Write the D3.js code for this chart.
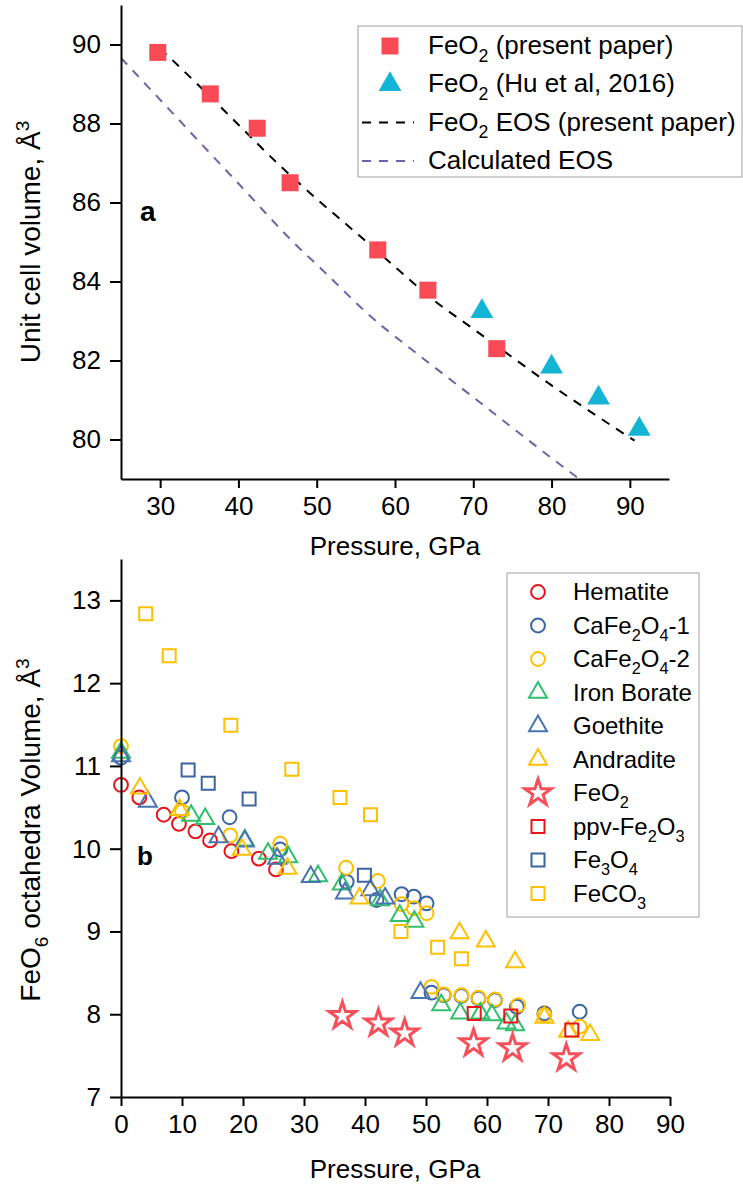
<!DOCTYPE html>
<html>
<head>
<meta charset="utf-8">
<script src="https://cdn.jsdelivr.net/npm/d3@7"></script>
<style>
body { margin: 0; background: #fff; }
svg text { font-family: "Liberation Sans", Arial, sans-serif; fill: #000; }
.axis path, .axis line { stroke: #000; stroke-width: 2; }
</style>
</head>
<body>
<script>
'use strict';

// ---- panel a data ----
var presentP = [29.7, 36.4, 42.4, 46.6, 57.8, 64.2, 73.0];
var presentV = [89.8, 88.75, 87.88, 86.5, 84.8, 83.78, 82.3];
var huP = [71.1, 80.0, 86.0, 91.2];
var huV = [83.24, 81.84, 81.05, 80.26];
var eosP = [30, 35, 40, 45, 50, 55, 60, 65, 70, 75, 80, 85, 90.6];
var eosV = [89.9, 88.95, 87.97, 86.99, 86.09, 85.24, 84.37, 83.52, 82.8, 82.08, 81.37, 80.7, 79.97];
var calcP = [25, 30, 40, 47.9, 50, 58.1, 60, 70, 80, 84];
var calcV = [89.66, 88.6, 86.48, 84.82, 84.43, 82.91, 82.61, 81.07, 79.53, 78.93];

// ---- panel b data ----
var hematiteP = [0, 3.0, 7.0, 9.5, 12.2, 14.6, 18.1, 22.6, 25.4];
var hematiteV = [10.77, 10.62, 10.41, 10.30, 10.21, 10.10, 9.97, 9.88, 9.75];
var cafe1P = [0, 10.0, 17.8, 26.1, 37.0, 41.9, 46.0, 48.0, 50.1, 50.9, 52.9, 55.8, 58.6, 61.3, 64.9, 69.4, 75.2];
var cafe1V = [11.1, 10.62, 10.38, 9.99, 9.60, 9.38, 9.45, 9.42, 9.34, 8.26, 8.23, 8.22, 8.19, 8.17, 8.09, 8.01, 8.03];
var cafe2P = [0, 10.0, 17.9, 26.1, 36.9, 42.1, 46.0, 48.0, 50.1, 50.9, 52.9, 55.8, 58.6, 61.3, 65.1, 69.4, 75.2];
var cafe2V = [11.24, 10.45, 10.16, 10.06, 9.77, 9.61, 9.33, 9.28, 9.22, 8.33, 8.24, 8.23, 8.20, 8.18, 8.11, 7.99, 7.85];
var boraP = [0, 11.5, 13.8, 20.3, 24.1, 27.4, 32.3, 36.2, 42.5, 45.7, 48.1, 52.5, 55.6, 58.9, 60.8, 63.2, 64.6];
var boraV = [11.16, 10.40, 10.36, 10.10, 9.94, 9.90, 9.67, 9.57, 9.38, 9.19, 9.12, 8.11, 8.01, 8.01, 7.99, 7.89, 7.87];
var goethP = [0, 4.4, 16.0, 20.3, 25.6, 31.1, 36.7, 40.9, 43.3, 49.1];
var goethV = [11.12, 10.57, 10.14, 10.09, 9.88, 9.66, 9.46, 9.50, 9.40, 8.26];
var andraP = [3.1, 9.6, 19.8, 27.3, 39.1, 55.5, 59.8, 64.6, 69.4, 73.3, 76.9];
var andraV = [10.73, 10.47, 9.99, 9.76, 9.40, 8.98, 8.88, 8.63, 7.96, 7.79, 7.75];
var feo2P = [36.3, 42.2, 46.5, 57.8, 64.2, 73.0];
var feo2V = [7.98, 7.89, 7.77, 7.65, 7.59, 7.47];
var ppvP = [57.9, 63.9, 73.9];
var ppvV = [8.01, 7.98, 7.81];
var fe3o4P = [11.0, 14.3, 21.0, 39.9];
var fe3o4V = [10.95, 10.79, 10.60, 9.68];
var feco3P = [4.05, 7.9, 18.0, 28.0, 35.9, 40.9, 45.9, 51.9, 55.8];
var feco3V = [12.84, 12.33, 11.49, 10.96, 10.62, 10.41, 9.00, 8.81, 8.67];

var svg = d3.select("body").append("svg")
    .attr("width", 743).attr("height", 1189);

// write text with _{sub} and ^{sup} parts
function richText(t, str, fs) {
    var segs = [], re = /([_^])\{([^}]*)\}/g, last = 0, m;
    while ((m = re.exec(str)) !== null) {
        if (m.index > last) segs.push([str.slice(last, m.index), 0]);
        segs.push([m[2], m[1] == "_" ? 1 : -1]);
        last = re.lastIndex;
    }
    if (last < str.length) segs.push([str.slice(last), 0]);
    var cur = 0;
    segs.forEach(function(s) {
        var off = s[1] > 0 ? fs * 0.3 : (s[1] < 0 ? -fs * 0.4 : 0);
        t.append("tspan").attr("dy", off - cur)
            .attr("font-size", s[1] ? fs * 0.68 : fs).text(s[0]);
        cur = off;
    });
    return t;
}

function zipPts(a, b) { return a.map(function(d, i) { return [d, b[i]]; }); }

// ================= panel a =================
var xA = d3.scaleLinear().domain([25, 95]).range([121, 669]);
var yA = d3.scaleLinear().domain([79, 91]).range([479, 5]);

var gA = svg.append("g");
gA.append("clipPath").attr("id", "clipA").append("rect")
    .attr("x", 121).attr("y", 5).attr("width", 548).attr("height", 474);

var lineA = d3.line().x(function(d) { return xA(d[0]); }).y(function(d) { return yA(d[1]); })
    .curve(d3.curveMonotoneX);

gA.append("path").datum(zipPts(calcP, calcV)).attr("d", lineA)
    .attr("clip-path", "url(#clipA)")
    .attr("fill", "none").attr("stroke", "#6b64a8").attr("stroke-width", 2)
    .attr("stroke-dasharray", "9,8");
gA.append("path").datum(zipPts(eosP, eosV)).attr("d", lineA)
    .attr("fill", "none").attr("stroke", "#000").attr("stroke-width", 2)
    .attr("stroke-dasharray", "9,8");

gA.selectAll(".sqA").data(zipPts(presentP, presentV)).enter().append("rect")
    .attr("x", function(d) { return xA(d[0]) - 8.5; })
    .attr("y", function(d) { return yA(d[1]) - 8.5; })
    .attr("width", 17).attr("height", 17).attr("fill", "#f94b55");
gA.selectAll(".trA").data(zipPts(huP, huV)).enter().append("path")
    .attr("d", d3.symbol(d3.symbolTriangle).size(225))
    .attr("transform", function(d) { return "translate(" + xA(d[0]) + "," + yA(d[1]) + ")"; })
    .attr("fill", "#14b4d4");

function drawAxes(g, x, y, xMaj, xMin, yMaj, yMin) {
    var ax = g.append("g").attr("class", "axis").attr("transform", "translate(0," + y.range()[0] + ")");
    ax.call(d3.axisBottom(x).tickValues(xMin).tickSize(5).tickSizeOuter(0).tickFormat(""));
    ax.call(d3.axisBottom(x).tickValues(xMaj).tickSize(9).tickSizeOuter(0).tickPadding(9)
        .tickFormat(d3.format("d")));
    var ay = g.append("g").attr("class", "axis").attr("transform", "translate(" + x.range()[0] + ",0)");
    ay.call(d3.axisLeft(y).tickValues(yMin).tickSize(6).tickSizeOuter(0).tickFormat(""));
    ay.call(d3.axisLeft(y).tickValues(yMaj).tickSize(11).tickSizeOuter(0).tickPadding(9)
        .tickFormat(d3.format("d")));
    g.selectAll(".axis text").attr("font-size", 26).attr("font-family", "Liberation Sans, Arial, sans-serif");
}

drawAxes(gA, xA, yA, d3.range(30, 91, 10), d3.range(25, 96, 10),
    d3.range(80, 91, 2), d3.range(79, 92, 2));

gA.append("text").attr("x", 140).attr("y", 221).attr("font-size", 28)
    .attr("font-weight", "bold").text("a");

richText(gA.append("text").attr("transform", "translate(40,242) rotate(-90)")
    .attr("text-anchor", "middle"), "Unit cell volume, Å^{3}", 28);
gA.append("text").attr("x", 395).attr("y", 555).attr("text-anchor", "middle")
    .attr("font-size", 26).text("Pressure, GPa");

// legend a
var legA = gA.append("g");
legA.append("rect").attr("x", 358).attr("y", 26).attr("width", 384).attr("height", 151)
    .attr("fill", "#fff").attr("stroke", "#a0a0a0").attr("stroke-width", 1);
var legAItems = ["FeO_{2} (present paper)", "FeO_{2} (Hu et al, 2016)",
    "FeO_{2} EOS (present paper)", "Calculated EOS"];
legAItems.forEach(function(s, i) {
    var cy = 46 + i * 38.3;
    richText(legA.append("text").attr("x", 428).attr("y", cy + 8).attr("font-size", 26), s, 26);
    if (i == 0) legA.append("rect").attr("x", 381.5).attr("y", cy - 8.5).attr("width", 17).attr("height", 17).attr("fill", "#f94b55");
    if (i == 1) legA.append("path").attr("d", d3.symbol(d3.symbolTriangle).size(225))
        .attr("transform", "translate(390," + cy + ")").attr("fill", "#14b4d4");
    if (i >= 2) legA.append("line").attr("x1", 362).attr("x2", 414).attr("y1", cy).attr("y2", cy)
        .attr("stroke", i == 2 ? "#000" : "#6b64a8").attr("stroke-width", 2).attr("stroke-dasharray", "9,8");
});

// ================= panel b =================
var xB = d3.scaleLinear().domain([0, 90]).range([121, 670]);
var yB = d3.scaleLinear().domain([7, 13.5]).range([1097, 559]);
var gB = svg.append("g");

var series = [
    {name: "Hematite", p: hematiteP, v: hematiteV, shape: d3.symbolCircle, size: 150, color: "#e8141c"},
    {name: "CaFe_{2}O_{4}-1", p: cafe1P, v: cafe1V, shape: d3.symbolCircle, size: 150, color: "#3b64a4"},
    {name: "CaFe_{2}O_{4}-2", p: cafe2P, v: cafe2V, shape: d3.symbolCircle, size: 150, color: "#ffc000"},
    {name: "Iron Borate", p: boraP, v: boraV, shape: d3.symbolTriangle, size: 140, color: "#30c06c"},
    {name: "Goethite", p: goethP, v: goethV, shape: d3.symbolTriangle, size: 140, color: "#4a74b0"},
    {name: "Andradite", p: andraP, v: andraV, shape: d3.symbolTriangle, size: 140, color: "#ffc000"},
    {name: "FeO_{2}", p: feo2P, v: feo2V, shape: d3.symbolStar, size: 220, color: "#f7505a", sw: 3},
    {name: "ppv-Fe_{2}O_{3}", p: ppvP, v: ppvV, shape: d3.symbolSquare, size: 169, color: "#e8141c"},
    {name: "Fe_{3}O_{4}", p: fe3o4P, v: fe3o4V, shape: d3.symbolSquare, size: 169, color: "#3b64a4"},
    {name: "FeCO_{3}", p: feco3P, v: feco3V, shape: d3.symbolSquare, size: 169, color: "#ffc000"}
];

series.forEach(function(s) {
    gB.append("g").selectAll("path").data(zipPts(s.p, s.v)).enter().append("path")
        .attr("d", d3.symbol(s.shape).size(s.size))
        .attr("transform", function(d) { return "translate(" + xB(d[0]) + "," + yB(d[1]) + ")"; })
        .attr("fill", "none").attr("stroke", s.color).attr("stroke-width", s.sw || 2);
});

drawAxes(gB, xB, yB, d3.range(0, 91, 10), d3.range(5, 90, 10),
    d3.range(7, 14, 1), d3.range(7.5, 14, 1));

gB.append("text").attr("x", 137).attr("y", 865).attr("font-size", 26)
    .attr("font-weight", "bold").text("b");

richText(gB.append("text").attr("transform", "translate(40,830) rotate(-90)")
    .attr("text-anchor", "middle"), "FeO_{6} octahedra Volume, Å^{3}", 28);
gB.append("text").attr("x", 395).attr("y", 1178).attr("text-anchor", "middle")
    .attr("font-size", 26).text("Pressure, GPa");

// legend b
var legB = gB.append("g");
legB.append("rect").attr("x", 507).attr("y", 573).attr("width", 192).attr("height", 344)
    .attr("fill", "#fff").attr("stroke", "#a0a0a0").attr("stroke-width", 1);
series.forEach(function(s, i) {
    var cy = 592 + i * 33.5;
    legB.append("path").attr("d", d3.symbol(s.shape).size(s.size))
        .attr("transform", "translate(538," + cy + ")")
        .attr("fill", "none").attr("stroke", s.color).attr("stroke-width", s.sw || 2);
    richText(legB.append("text").attr("x", 573).attr("y", cy + 8).attr("font-size", 24), s.name, 24);
});
</script>
</body>
</html>
